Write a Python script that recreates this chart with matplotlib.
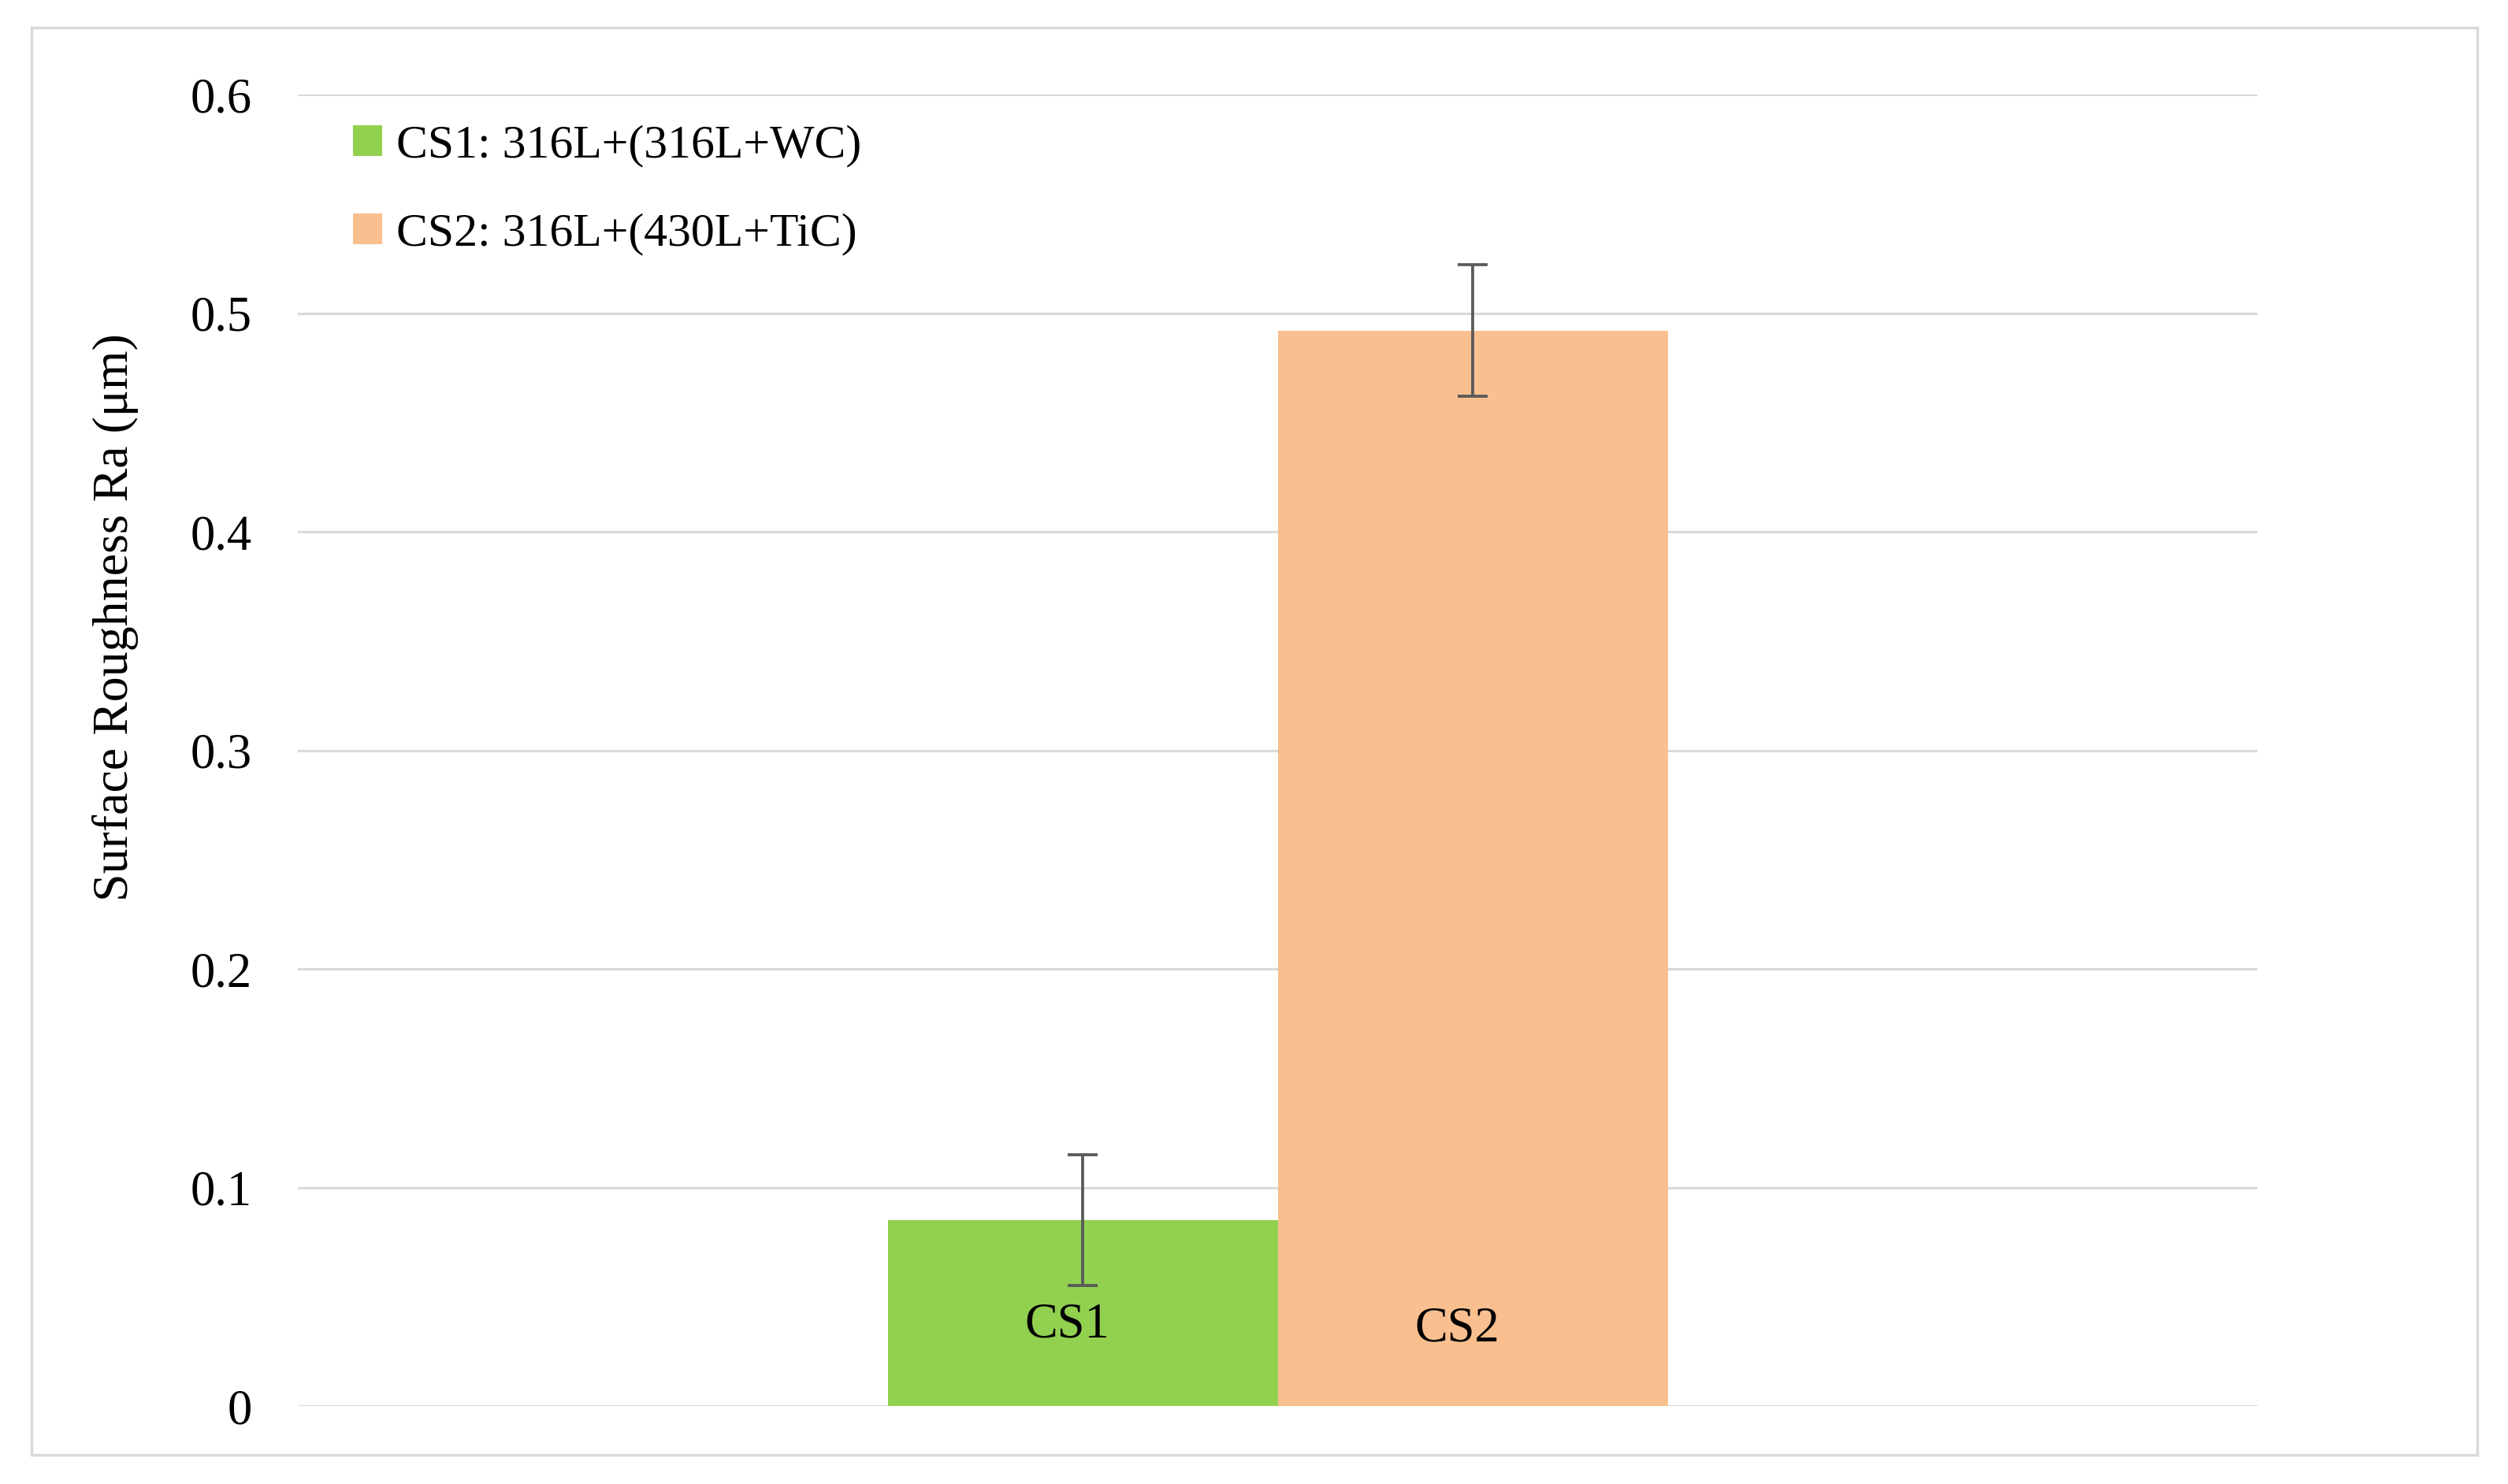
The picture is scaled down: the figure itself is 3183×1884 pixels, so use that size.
import matplotlib
matplotlib.use("Agg")
from matplotlib import pyplot as plt
from matplotlib.patches import Rectangle

#Data
samples = ["CS1", "CS2"]
legend_labels = ["CS1: 316L+(316L+WC)", "CS2: 316L+(430L+TiC)"]
roughness = [0.085, 0.492]
roughness_err = [0.030, 0.030]
bar_colors = ["#92D050", "#F9BF8F"]
yticks = [0, 0.1, 0.2, 0.3, 0.4, 0.5, 0.6]
ytick_labels = ["0", "0.1", "0.2", "0.3", "0.4", "0.5", "0.6"]

plt.rcParams['font.family'] = ['Liberation Serif', 'DejaVu Serif']

#Figure Setup
fig = plt.figure(figsize=(31.83, 18.84), dpi=100)
ax = fig.add_axes([0.1188, 0.0525, 0.7813, 0.8838])

#Outer border
fig.patches.append(Rectangle((40 / 3183, 1 - 1847 / 1884), 3104 / 3183, 1812 / 1884,
                             transform=fig.transFigure, fill=False,
                             edgecolor="#d9d9d9", linewidth=2.5))

#Bars
xpos = [-0.5, 0.5]
label_y = [0.037, 0.035]
for i in range(len(samples)):
    ax.bar(xpos[i], roughness[i], width=1.0, color=bar_colors[i], linewidth=0,
           label=legend_labels[i], zorder=2,
           yerr=roughness_err[i],
           error_kw=dict(ecolor="#595959", elinewidth=2.7, capsize=14, capthick=2.7, zorder=3))
    ax.text(xpos[i] - 0.04, label_y[i], samples[i], ha="center", va="center", fontsize=45, zorder=4)

#Axes style
ax.set_xlim(-2.512, 2.512)
ax.set_ylim(0, 0.6)
ax.set_yticks(yticks)
ax.set_yticklabels(ytick_labels)
ax.set_xticks([])
ax.tick_params(axis="y", length=0, pad=42, labelsize=45)
ax.grid(axis="y", color="#d9d9d9", linewidth=2.2, zorder=0)
ax.set_axisbelow(True)
for s in ax.spines.values():
    s.set_visible(False)

fig.text(0.046, 0.584, "Surface Roughness Ra (μm)", rotation=90, ha="center", va="center", fontsize=46)

#Legend
ax.legend(loc="upper left", bbox_to_anchor=(0.016, 0.995), frameon=False, fontsize=43,
          handlelength=0.62, handleheight=0.62, handletextpad=0.3, labelspacing=0.98,
          borderpad=0)

fig.savefig("out.png", dpi=100)
